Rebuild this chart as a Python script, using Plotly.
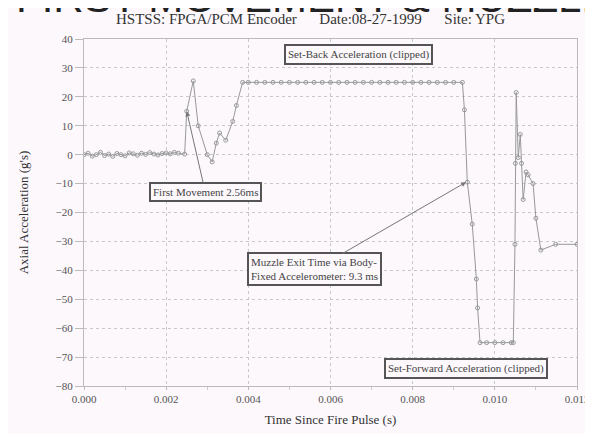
"""Axial acceleration trace, HSTSS FPGA/PCM encoder test, recreated with Plotly."""

import plotly.graph_objects as go

# time since fire pulse (s)
time_s = [
    0.0000, 0.0001, 0.0002, 0.0003, 0.0004, 0.0005, 0.0006, 0.0007, 0.0008,
    0.0009, 0.0010, 0.0011, 0.0012, 0.0013, 0.0014, 0.0015, 0.0016, 0.0017,
    0.0018, 0.0019, 0.0020, 0.0021, 0.0022, 0.0023, 0.00245,
    0.00250, 0.00266, 0.00278, 0.00300, 0.00312, 0.00322, 0.00330, 0.00345,
    0.00362, 0.00371, 0.00386,
    0.0040, 0.0042, 0.0044, 0.0046, 0.0048, 0.0050, 0.0052, 0.0054, 0.0056,
    0.0058, 0.0060, 0.0062, 0.0064, 0.0066, 0.0068, 0.0070, 0.0072, 0.0074,
    0.0076, 0.0078, 0.0080, 0.0082, 0.0084, 0.0086, 0.0088, 0.0090, 0.00921,
    0.00926, 0.00933, 0.00945, 0.00955, 0.00958, 0.00964,
    0.0098, 0.0100, 0.0102, 0.0104, 0.01045,
    0.01049, 0.01050, 0.01052, 0.01057, 0.01062, 0.01065, 0.01069, 0.01076,
    0.01081, 0.01093, 0.01100, 0.01112, 0.01148, 0.01200,
]

# axial acceleration (g's)
accel_g = [
    0.0, 0.5, -0.5, 0.0, 0.8, -0.3, 0.2, -0.6, 0.4,
    0.0, -0.4, 0.6, 0.3, -0.2, 0.5, 0.1, 0.7, 0.2,
    -0.1, 0.4, 0.6, 0.3, 0.8, 0.5, 0.2,
    15.0, 25.5, 10.0, 0.0, -2.5, 4.0, 7.5, 5.0,
    11.5, 17.0, 25.0,
    25.0, 25.0, 25.0, 25.0, 25.0, 25.0, 25.0, 25.0, 25.0,
    25.0, 25.0, 25.0, 25.0, 25.0, 25.0, 25.0, 25.0, 25.0,
    25.0, 25.0, 25.0, 25.0, 25.0, 25.0, 25.0, 25.0, 25.0,
    15.5, -9.5, -24.0, -43.0, -53.0, -65.0,
    -65.0, -65.0, -65.0, -65.0, -65.0,
    -31.0, -3.0, 21.5, -1.0, 7.0, -3.0, -15.5, -6.0,
    -7.0, -10.0, -22.0, -33.0, -31.0, -31.0,
]

x_ticks = [0.000, 0.002, 0.004, 0.006, 0.008, 0.010, 0.012]
y_ticks = [40, 30, 20, 10, 0, -10, -20, -30, -40, -50, -60, -70, -80]

TITLE = "HSTSS: FPGA/PCM Encoder      Date:08-27-1999      Site: YPG"
BANNER = "FIRST MOVEMENT & MUZZLE EXIT"

BG = "#fcf8fc"
SERIF = "Liberation Serif"

fig = go.Figure()
fig.add_trace(go.Scatter(
    x=time_s,
    y=accel_g,
    mode="lines+markers",
    line=dict(color="#999999", width=1),
    marker=dict(symbol="circle-open", size=4, color="#999999", line=dict(width=1)),
    showlegend=False,
))

box = dict(
    font=dict(family=SERIF, size=11, color="#444444"),
    bgcolor=BG,
    bordercolor="#555555",
    borderwidth=2,
    borderpad=2,
)

fig.add_annotation(
    x=0.00669, y=34.8, xref="x", yref="y",
    text="Set-Back Acceleration (clipped)", showarrow=False, **box,
)
fig.add_annotation(
    x=0.00931, y=-74.0, xref="x", yref="y",
    text="Set-Forward Acceleration (clipped)", showarrow=False, **box,
)
fig.add_annotation(
    x=0.0025, y=15.0, xref="x", yref="y",
    ax=0.00295, ay=-12.8, axref="x", ayref="y",
    text="First Movement 2.56ms",
    showarrow=True, arrowhead=2, arrowsize=1, arrowwidth=1, arrowcolor="#777777",
    **box,
)
fig.add_annotation(
    x=0.0093, y=-9.5, xref="x", yref="y",
    ax=0.00562, ay=-39.7, axref="x", ayref="y",
    text="Muzzle Exit Time via Body-<br>Fixed Accelerometer: 9.3 ms",
    align="left",
    showarrow=True, arrowhead=2, arrowsize=1, arrowwidth=1, arrowcolor="#777777",
    **box,
)

# banner above the chart title, mostly cut off by the top edge
fig.add_annotation(
    x=-0.141, y=1.045, xref="paper", yref="paper",
    text=BANNER, showarrow=False, xanchor="left", yanchor="bottom",
    font=dict(family="Liberation Sans", size=42, color="#222222"),
)
fig.add_annotation(
    x=0.46, y=1.0, xref="paper", yref="paper",
    text=TITLE, showarrow=False, xanchor="center", yanchor="bottom", yshift=10,
    font=dict(family=SERIF, size=15, color="#333333"),
)

fig.update_layout(
    width=593,
    height=434,
    margin=dict(l=76, r=13, t=31, b=56),
    paper_bgcolor=BG,
    plot_bgcolor=BG,
    font=dict(family=SERIF, color="#555555"),
)
fig.update_xaxes(
    range=[0, 0.012],
    tickvals=x_ticks,
    tickformat=".3f",
    tickfont=dict(size=11, color="#555555"),
    ticks="outside", ticklen=3, tickcolor="#bbbbbb",
    minor=dict(dtick=0.001, ticks="outside", ticklen=3, tickcolor="#cccccc", showgrid=False),
    showgrid=True, gridcolor="#c8c8c8", griddash="dot", gridwidth=1,
    showline=True, linecolor="#bbbbbb", mirror=True,
    zeroline=False,
    title=dict(text="Time Since Fire Pulse (s)", font=dict(size=13, color="#333333"), standoff=10),
)
fig.update_yaxes(
    range=[-80, 40],
    tickvals=y_ticks,
    tickfont=dict(size=11, color="#555555"),
    ticks="outside", ticklen=8, tickcolor="#bbbbbb",
    showgrid=True, gridcolor="#c8c8c8", griddash="dot", gridwidth=1,
    showline=True, linecolor="#bbbbbb", mirror=True,
    zeroline=False,
    title=dict(text="Axial Acceleration (g's)", font=dict(size=13, color="#333333"), standoff=24),
)

fig.write_html("out.html")
